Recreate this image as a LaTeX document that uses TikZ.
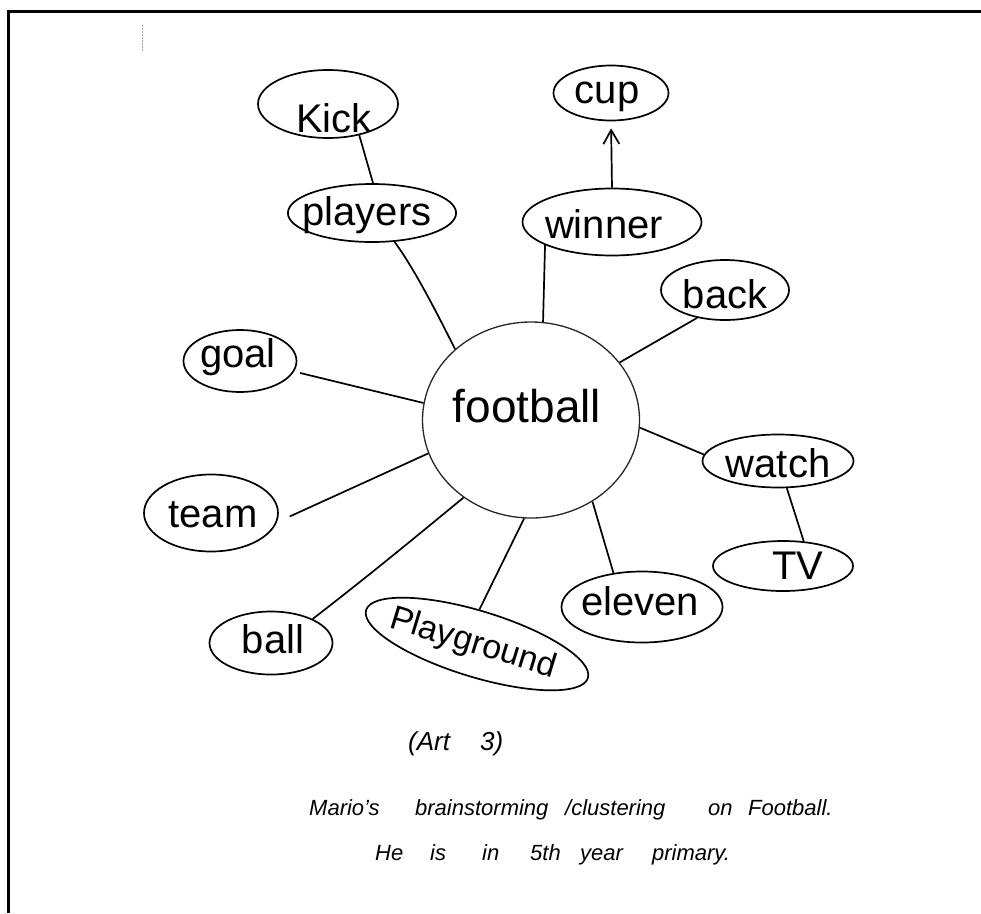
\documentclass[tikz,border=0pt]{standalone}
\usepackage{fontspec}
\setmainfont{Liberation Sans}
\usetikzlibrary{shapes.geometric,arrows.meta}
\newcommand\txtat[3]{\hspace*{#1pt}\smash{\raisebox{-#2pt}{#3}}}
\begin{document}
\begin{tikzpicture}[x=1pt,y=-1pt,
  bubble/.style={draw, ellipse, line width=1.7pt, inner sep=0pt, font=\fontsize{40}{40}\selectfont},
  link/.style={line width=1.7pt},
  capt/.style={inner sep=0pt, anchor=base west, font=\itshape\fontsize{22}{22}\selectfont}]
\useasboundingbox (0,0) rectangle (981,913);
% frame
\draw[line width=2.7pt] (8.7,913) -- (8.7,11.3) -- (981,11.3);
\draw[black!35, line width=0.8pt, dash pattern=on 1.5pt off 1.5pt] (142.5,25) -- (142.5,52);
% nodes
\node[bubble, minimum width=140pt, minimum height=68pt] (kick) at (328,104) {\txtat{12}{28}{Kick}};
\node[bubble, minimum width=161pt, minimum height=58pt] (players) at (372,213) {\txtat{-10}{12}{players}};
\node[bubble, minimum width=115pt, minimum height=55pt] (cup) at (611,93) {\txtat{-8}{10}{cup}};
\node[bubble, minimum width=179pt, minimum height=67pt] (winner) at (612,222) {\txtat{-16}{16}{winner}};
\node[bubble, minimum width=128pt, minimum height=60pt] (back) at (725,290) {\txtat{0}{18}{back}};
\node[bubble, minimum width=113pt, minimum height=62pt] (goal) at (240,361) {\txtat{-4}{6}{goal}};
\node[draw=black!85, ellipse, line width=1.3pt, minimum width=217pt, minimum height=196pt, inner sep=0pt, font=\fontsize{46}{46}\selectfont] (football) at (531,420) {\txtat{-8}{2}{football}};
\node[bubble, minimum width=151pt, minimum height=53pt] (watch) at (778,461) {\txtat{0}{16}{watch}};
\node[bubble, minimum width=140pt, minimum height=50pt] (tv) at (783,566) {\txtat{30}{13}{TV}};
\node[bubble, minimum width=134pt, minimum height=77pt] (team) at (211,513) {\txtat{4}{14}{team}};
\node[bubble, minimum width=123pt, minimum height=63pt] (ball) at (271,643) {\txtat{4}{10}{ball}};
\node[bubble, minimum width=129pt, minimum height=71pt] (eleven) at (642,607) {\txtat{-4}{8}{eleven}};
\node[bubble, rotate=-17, minimum width=204pt, minimum height=66pt, font=\fontsize{34}{34}\selectfont] (playground) at (477,644) {\txtat{-8}{10}{Playground}};
% connectors
\draw[link] (kick.-45) -- (players.88);
\draw[link] (players.-52) .. controls (414,268) and (438,315) .. (football.137);
\draw[link, -{Straight Barb[length=14pt,width=16pt]}, shorten >=7pt] (winner.north) -- (cup.south);
\draw[link] (winner.-161) -- (football.83);
\draw[link] (back.-135) -- (football.33);
\draw[link, shorten <=6pt] (goal.-11) -- (football.171);
\draw[link, shorten <=14pt] (team.-8) -- (football.-162);
\draw[link] (football.-131) .. controls (424,530) and (376,570) .. (ball.30);
\draw[link] (football.-94) -- (playground.103);
\draw[link] (football.-53) -- (eleven.130);
\draw[link] (football.-4) -- (watch.175);
\draw[link] (watch.-72) -- (tv.50);
% captions
\node[capt, font=\itshape\fontsize{26}{26}\selectfont] (art) at (408,750) {\makebox[72pt][l]{(Art}3)};
\node[capt] (cap1) at (309,815) {\makebox[106pt][l]{Mario's}\makebox[150pt][l]{brainstorming}\makebox[143pt][l]{/clustering}\makebox[40pt][l]{on}Football.};
\node[capt] (cap2) at (375,860) {\makebox[55pt][l]{He}\makebox[52pt][l]{is}\makebox[48pt][l]{in}\makebox[50pt][l]{5th}\makebox[72pt][l]{year}primary.};
\end{tikzpicture}
\end{document}
